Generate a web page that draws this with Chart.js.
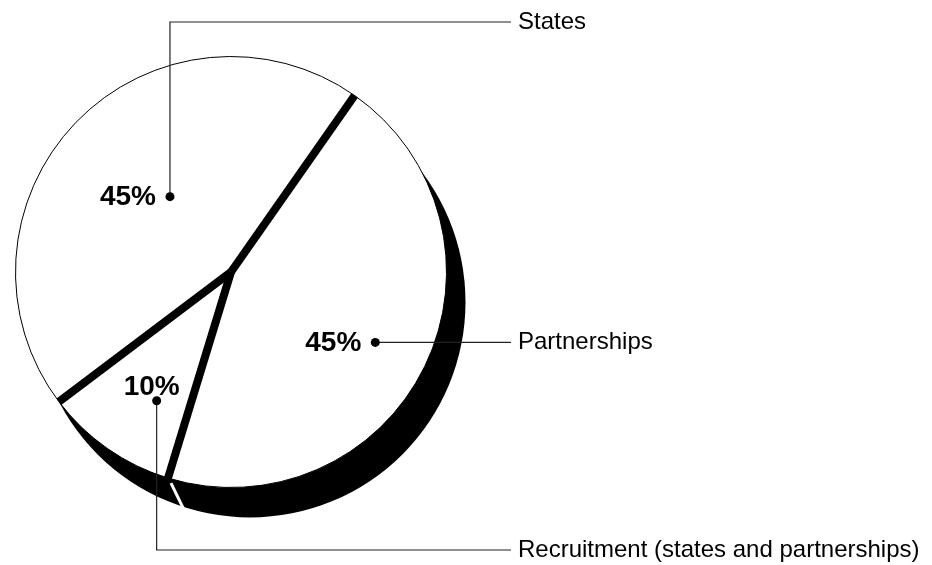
<!DOCTYPE html>
<html>
<head>
<meta charset="utf-8">
<script src="https://cdn.jsdelivr.net/npm/chart.js@4.4.0/dist/chart.umd.min.js"></script>
<style>
  html, body { margin: 0; padding: 0; background: #fff; }
  #wrap { width: 932px; height: 565px; position: relative; }
</style>
</head>
<body>
<div id="wrap"><canvas id="pieChart"></canvas></div>
<script>
// Data
const labels = ['Partnerships', 'Recruitment (states and partnerships)', 'States'];
const shares = [45, 10, 45];

const LABEL_FONT = '24px "Liberation Sans", Arial, Helvetica, sans-serif';
const PCT_FONT = 'bold 28px "Liberation Sans", Arial, Helvetica, sans-serif';

// shadow, thick dividers, dots, leader lines and labels
const pieExtras = {
    id: 'pieExtras',
    beforeDatasetsDraw(chart, args, opts) {
        const a = chart.getDatasetMeta(0).data[0].getProps(['x', 'y', 'outerRadius'], true);
        const ctx = chart.ctx;
        ctx.save();
        ctx.fillStyle = '#000';
        ctx.beginPath();
        ctx.arc(a.x + opts.shadowX, a.y + opts.shadowY, a.outerRadius, 0, Math.PI * 2);
        ctx.fill();
        ctx.restore();
    },
    afterDatasetsDraw(chart, args, opts) {
        const meta = chart.getDatasetMeta(0);
        const ctx = chart.ctx;
        ctx.save();

        meta.data.forEach(function(el, i) {
            const a = el.getProps(['x', 'y', 'startAngle', 'endAngle', 'outerRadius'], true);
            const ex = a.x + a.outerRadius * Math.cos(a.startAngle);
            const ey = a.y + a.outerRadius * Math.sin(a.startAngle);
            ctx.strokeStyle = '#000';
            ctx.lineWidth = opts.dividerWidth;
            ctx.lineCap = 'butt';
            ctx.beginPath();
            ctx.moveTo(a.x, a.y);
            ctx.lineTo(ex, ey);
            ctx.stroke();
            // edge of the extrusion showing through the shadow
            if (i === opts.gapAt) {
                ctx.strokeStyle = '#fff';
                ctx.lineWidth = 3;
                ctx.beginPath();
                ctx.moveTo(ex + 3, ey + 5);
                ctx.lineTo(ex + opts.shadowX * 0.8, ey + opts.shadowY);
                ctx.stroke();
            }
        });

        meta.data.forEach(function(el, i) {
            const a = el.getProps(['x', 'y', 'startAngle', 'endAngle', 'outerRadius'], true);
            const p = opts.callouts[i];
            const mid = (a.startAngle + a.endAngle) / 2 + p.nudge * Math.PI / 180;
            const dx = a.x + a.outerRadius * p.frac * Math.cos(mid);
            const dy = a.y + a.outerRadius * p.frac * Math.sin(mid);
            const ly = p.route === 'right' ? dy : p.elbowY;

            ctx.strokeStyle = '#222';
            ctx.lineWidth = 1.2;
            ctx.beginPath();
            ctx.moveTo(dx, dy);
            if (p.route !== 'right') ctx.lineTo(dx, p.elbowY);
            ctx.lineTo(opts.lineEnd, ly);
            ctx.stroke();

            ctx.fillStyle = '#000';
            ctx.beginPath();
            ctx.arc(dx, dy, 4.5, 0, Math.PI * 2);
            ctx.fill();

            ctx.font = LABEL_FONT;
            ctx.textAlign = 'left';
            ctx.textBaseline = 'middle';
            ctx.fillText(chart.data.labels[i], opts.lineEnd + 7, ly);

            const txt = chart.data.datasets[0].data[i] + '%';
            ctx.font = PCT_FONT;
            if (p.text === 'left') {
                ctx.textAlign = 'right';
                ctx.textBaseline = 'middle';
                ctx.fillText(txt, dx - 14, dy + 1);
            } else {
                ctx.textAlign = 'center';
                ctx.textBaseline = 'alphabetic';
                ctx.fillText(txt, dx - 5, dy - 6);
            }
        });
        ctx.restore();
    }
};

window.addEventListener('load', function() {
    const ctx = document.getElementById('pieChart').getContext('2d');
    new Chart(ctx, {
        type: 'pie',
        data: {
            labels: labels,
            datasets: [{
                data: shares,
                backgroundColor: '#fff',
                borderColor: '#000',
                borderWidth: 1,
                hoverOffset: 0,
                offset: 0
            }]
        },
        options: {
            responsive: true,
            maintainAspectRatio: false,
            animation: false,
            events: [],
            rotation: 35,
            layout: {
                padding: { left: 15, top: 56, right: 485, bottom: 77 }
            },
            plugins: {
                legend: { display: false },
                tooltip: { enabled: false },
                pieExtras: {
                    shadowX: 19,
                    shadowY: 30,
                    dividerWidth: 8,
                    gapAt: 1,
                    lineEnd: 511,
                    callouts: [
                        { nudge: 0, frac: 0.745, text: 'left', route: 'right' },
                        { nudge: -5, frac: 0.69, text: 'above', route: 'down', elbowY: 550 },
                        { nudge: 7, frac: 0.45, text: 'left', route: 'up', elbowY: 22 }
                    ]
                }
            }
        },
        plugins: [pieExtras]
    });
});
</script>
</body>
</html>
